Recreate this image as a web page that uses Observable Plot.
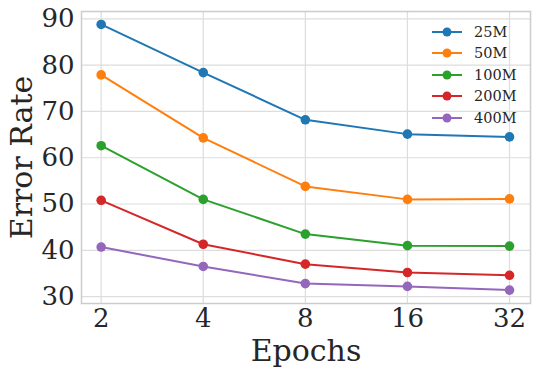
<!DOCTYPE html>
<html>
<head>
<meta charset="utf-8">
<script src="https://cdn.jsdelivr.net/npm/d3@7"></script>
<script src="https://cdn.jsdelivr.net/npm/@observablehq/plot@0.6"></script>
<style>
  html, body { margin: 0; padding: 0; background: #fff; }
  #wrap { position: relative; width: 540px; height: 379px; }
  #legend { position: absolute; left: 431px; top: 21px; font-family: "DejaVu Serif", serif; font-size: 14.5px; color: #262626; }
  #legend .row { display: flex; align-items: center; height: 21.5px; }
  #legend svg { margin-right: 11px; }
</style>
</head>
<body>
<div id="wrap"></div>
<script>
const epochs = [2, 4, 8, 16, 32];
const seriesNames = ["25M", "50M", "100M", "200M", "400M"];
const err25M  = [88.8, 78.4, 68.2, 65.1, 64.5];
const err50M  = [77.9, 64.3, 53.8, 51.0, 51.1];
const err100M = [62.6, 51.0, 43.5, 41.0, 40.9];
const err200M = [50.8, 41.3, 37.0, 35.2, 34.6];
const err400M = [40.7, 36.5, 32.8, 32.2, 31.4];
const colors = ["#1f77b4", "#ff7f0e", "#2ca02c", "#d62728", "#9467bd"];
const yTicks = [30, 40, 50, 60, 70, 80, 90];

const allSeries = [err25M, err50M, err100M, err200M, err400M];
const data = [];
allSeries.forEach((vals, i) => vals.forEach((v, j) => data.push({series: seriesNames[i], epoch: epochs[j], err: v})));

const font = "'DejaVu Serif', serif";
const chart = Plot.plot({
  width: 540,
  height: 379,
  marginLeft: 81,
  marginRight: 10,
  marginTop: 11,
  marginBottom: 76,
  style: {fontFamily: font, color: "#262626", background: "#fff"},
  x: {type: "log", base: 2, domain: [1.75, 36.9], ticks: epochs, tickFormat: d => String(d), label: null},
  y: {domain: [28.5, 91.6], ticks: yTicks, label: null},
  color: {domain: seriesNames, range: colors},
  marks: [
    Plot.gridX(epochs, {stroke: "#dddddd", strokeOpacity: 1, strokeWidth: 1.2}),
    Plot.gridY(yTicks, {stroke: "#dddddd", strokeOpacity: 1, strokeWidth: 1.2}),
    Plot.frame({stroke: "#cccccc", strokeWidth: 1.5}),
    Plot.axisX(epochs, {tickSize: 0, tickPadding: 5, fontSize: 26, fill: "#262626", tickFormat: d => String(d), label: null}),
    Plot.axisY(yTicks, {tickSize: 0, tickPadding: 7, fontSize: 26, fill: "#262626", label: null}),
    Plot.line(data, {x: "epoch", y: "err", z: "series", stroke: "series", strokeWidth: 2}),
    Plot.dot(data, {x: "epoch", y: "err", fill: "series", r: 4.8}),
    Plot.text(["Epochs"], {frameAnchor: "bottom", dy: 57, fontSize: 30, fill: "#262626", text: d => d}),
    Plot.text(["Error Rate"], {frameAnchor: "left", textAnchor: "middle", dx: -59, rotate: -90, fontSize: 30, fill: "#262626", text: d => d})
  ]
});
document.getElementById("wrap").appendChild(chart);

const legend = document.createElement("div");
legend.id = "legend";
seriesNames.forEach((name, i) => {
  const row = document.createElement("div");
  row.className = "row";
  row.innerHTML = `<svg width="32" height="12"><line x1="1" y1="6" x2="31" y2="6" stroke="${colors[i]}" stroke-width="2"/><circle cx="16" cy="6" r="4.5" fill="${colors[i]}"/></svg><span>${name}</span>`;
  legend.appendChild(row);
});
document.getElementById("wrap").appendChild(legend);
</script>
</body>
</html>
